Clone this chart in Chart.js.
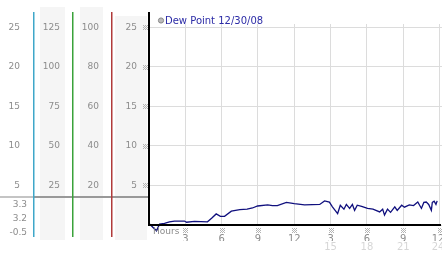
<html><head>
<script src="https://cdn.jsdelivr.net/npm/chart.js"></script>
<title>Dew Point 12/30/08</title>
<style>
body {
  margin: 0;
  background: #fff;
}
#chart {
  display: block;
}
</style>
</head>
<body>
<canvas id="chart" width="442" height="253"></canvas>

<script>
// readings, hours since midnight
const hours = [0, 0.62, 0.87, 1.28, 1.69, 2.1, 2.93, 3.1, 3.76, 4.83, 5.17, 5.55, 5.9, 6.24,
  6.8, 7.5, 8.1, 8.55, 8.97, 9.8, 10.2, 10.6, 11.35, 12.0, 12.85, 14.1, 14.5, 14.9, 15.15,
  15.58, 15.8, 16.1, 16.3, 16.57, 16.8, 16.98, 17.2, 17.56, 18.05, 18.5, 19.05, 19.3, 19.45,
  19.7, 19.95, 20.3, 20.5, 20.87, 21.1, 21.5, 21.85, 22.2, 22.35, 22.5, 22.7, 22.9, 23.1,
  23.32, 23.4, 23.55, 23.7, 23.8];
const dewPoint = [0.2, -0.73, 0.1, 0.2, 0.4, 0.5, 0.5, 0.35, 0.45, 0.4, 0.85, 1.4, 1.1, 1.1,
  1.75, 1.95, 2.0, 2.15, 2.4, 2.55, 2.45, 2.45, 2.85, 2.7, 2.55, 2.6, 3.05, 2.9, 2.3,
  1.45, 2.5, 2.0, 2.6, 2.1, 2.6, 1.85, 2.5, 2.35, 2.1, 2.0, 1.65, 2.0, 1.25,
  2.0, 1.6, 2.3, 1.85, 2.5, 2.25, 2.55, 2.45, 2.9, 2.5, 2.1, 2.85, 2.9, 2.6,
  1.85, 2.85, 3.0, 2.6, 3.05];

const hourTicks = [3, 6, 9, 12, 15, 18, 21, 24];
const hourLabels = ['3', '6', '9', '12', '3', '6', '9', '12 '];
const pmLabels = ['', '', '', '', '15', '18', '21', '24 '];

const dewTicks = [0, 5, 10, 15, 20, 25];
const col1Ticks = [5, 10, 15, 20, 25];
const col2Ticks = [25, 50, 75, 100, 125];
const col3Ticks = [20, 40, 60, 80, 100];
const summaryValues = ['3.3', '3.2', '-0.5'];

const seriesLabel = 'Dew Point 12/30/08';
const yMax = 25.4;

const tickFont = {family: 'DejaVu Sans', size: 9};
const gray = '#8c8c8c';

function fixedTicks(list) {
  return scale => { scale.ticks = list.map(v => ({value: v})); };
}
function leftAxis(width, weight, max, list, pad) {
  return {
    position: 'left',
    weight: weight,
    min: 0,
    max: max,
    afterBuildTicks: fixedTicks(list),
    afterFit: s => { s.width = width; s.paddingTop = 0; s.paddingBottom = 0; },
    grid: {display: false, drawTicks: false},
    border: {display: false},
    ticks: {color: gray, font: tickFont, padding: pad, autoSkip: false,
      callback: v => v === 0 ? '' : String(v)}
  };
}

// little hatched tick mark
function hatch(ctx, cx, cy) {
  const x0 = Math.round(cx) - 2, y0 = Math.round(cy) - 2;
  for (let i = 0; i < 5; i++) {
    for (let j = 0; j < 5; j++) {
      if ((i + j) % 2 === 0) ctx.fillRect(x0 + i, y0 + j, 1, 1);
    }
  }
}

const panelPlugin = {
  id: 'panel',
  beforeDraw(chart) {
    const ctx = chart.ctx;
    ctx.save();
    ctx.fillStyle = '#f5f5f5';
    ctx.fillRect(40, 7, 25, 233);
    ctx.fillRect(80, 7, 23, 233);
    ctx.fillRect(115, 16, 32, 224);
    ctx.restore();
  },
  afterDraw(chart) {
    const ctx = chart.ctx;
    const s = chart.scales;
    const area = chart.chartArea;
    ctx.save();
    // separator under the axis columns
    ctx.fillStyle = '#c4c4c4';
    ctx.fillRect(0, 196, s.yD.right, 2);
    ctx.fillStyle = '#999';
    ctx.fillRect(s.yD.right, 196, area.left - s.yD.right, 2);
    // coloured column rules
    [['yD', '#3fa7c9'], ['yC', '#3aa23a'], ['yB', '#b03a3a']].forEach(([id, c]) => {
      ctx.fillStyle = c;
      ctx.fillRect(Math.round(s[id].right), 12, 1.5, 225);
    });
    // summary values under column 1
    ctx.fillStyle = gray;
    ctx.font = '9px "DejaVu Sans"';
    ctx.textAlign = 'right';
    ctx.textBaseline = 'middle';
    summaryValues.forEach((t, i) => ctx.fillText(t, 27, 205 + i * 14));
    // tick marks
    ctx.fillStyle = '#b4b4b4';
    col1Ticks.forEach(v => hatch(ctx, area.left - 4, s.y.getPixelForValue(v)));
    hourTicks.forEach(v => hatch(ctx, s.x.getPixelForValue(v), 230));
    // axis lines
    ctx.fillStyle = '#000';
    ctx.fillRect(area.left - 1, 12, 2, area.bottom - 12 + 1);
    ctx.fillRect(area.left - 1, area.bottom - 1, chart.width - area.left, 2);
    // hours caption
    ctx.fillStyle = gray;
    ctx.font = '9px "DejaVu Sans"';
    ctx.textAlign = 'left';
    ctx.fillText('Hours', area.left + 4, 232);
    // legend
    ctx.beginPath();
    ctx.arc(161, 20.5, 2.6, 0, Math.PI * 2);
    ctx.fillStyle = '#bbb';
    ctx.fill();
    ctx.strokeStyle = '#888';
    ctx.lineWidth = 1;
    ctx.stroke();
    ctx.fillStyle = '#2b2ba6';
    ctx.font = '10px "DejaVu Sans"';
    ctx.fillText(chart.data.datasets[0].label, 165, 21);
    ctx.restore();
  }
};

const ctx = document.getElementById('chart').getContext('2d');
new Chart(ctx, {
  type: 'line',
  data: {
    datasets: [{
      label: seriesLabel,
      data: hours.map((h, i) => ({x: h, y: dewPoint[i]})),
      borderColor: '#10107e',
      borderWidth: 1.3,
      pointRadius: 0,
      tension: 0,
      clip: false
    }]
  },
  options: {
    responsive: false,
    animation: false,
    layout: {padding: {top: 24, left: 0, right: 0, bottom: 0}},
    plugins: {legend: {display: false}, tooltip: {enabled: false}},
    scales: {
      x: {
        type: 'linear',
        min: 0,
        max: 24.2,
        afterBuildTicks: fixedTicks(hourTicks),
        afterFit: s => { s.height = 16; s.paddingLeft = 0; s.paddingRight = 0; },
        grid: {color: '#dcdcdc', drawTicks: false},
        border: {display: false},
        ticks: {color: gray, font: {family: 'DejaVu Sans', size: 10}, padding: 8,
          maxRotation: 0, autoSkip: false,
          callback: (v, i) => hourLabels[i]}
      },
      x2: {
        type: 'linear',
        position: 'bottom',
        weight: 1,
        min: 0,
        max: 24.2,
        afterBuildTicks: fixedTicks(hourTicks),
        afterFit: s => { s.height = 12; s.paddingLeft = 0; s.paddingRight = 0; },
        grid: {display: false, drawTicks: false},
        border: {display: false},
        ticks: {color: '#d6d6d6', font: {family: 'DejaVu Sans', size: 10}, padding: 0,
          maxRotation: 0, autoSkip: false,
          callback: (v, i) => pmLabels[i]}
      },
      y: Object.assign(leftAxis(38, 0, yMax, dewTicks, 12), {
        grid: {color: '#dcdcdc', drawTicks: false}
      }),
      yB: leftAxis(39, 1, yMax * 4, col3Ticks, 12),
      yC: leftAxis(39, 2, yMax * 5, col2Ticks, 12),
      yD: leftAxis(33, 3, yMax, col1Ticks, 13)
    }
  },
  plugins: [panelPlugin]
});
</script>
</body></html>
